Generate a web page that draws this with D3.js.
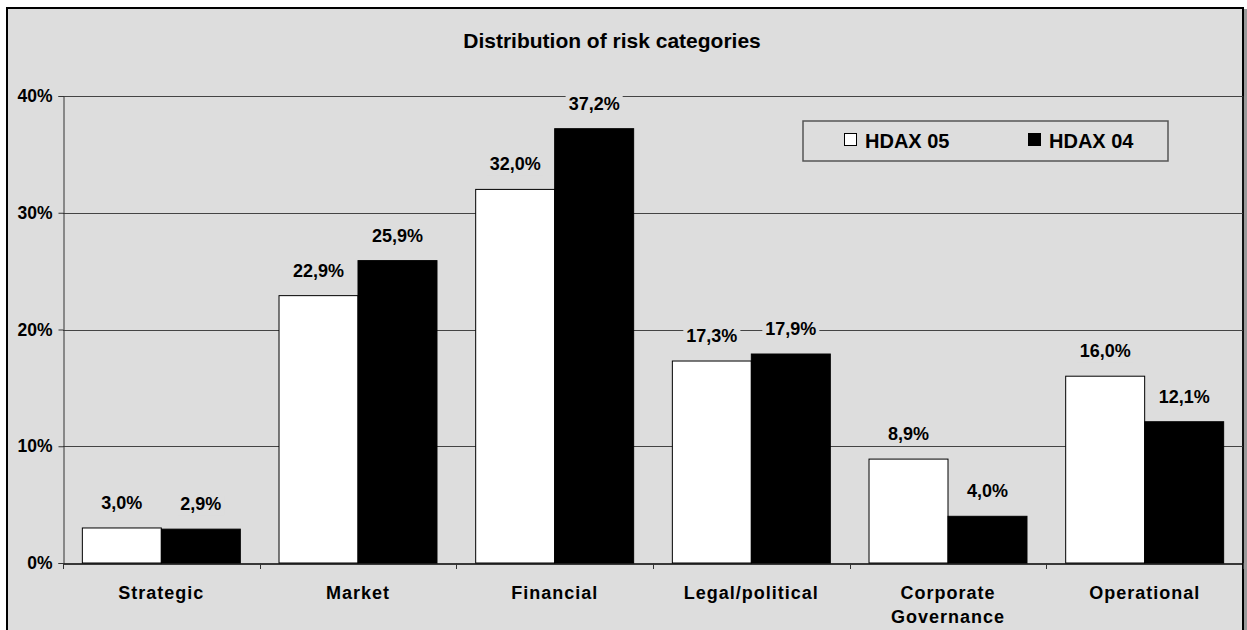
<!DOCTYPE html>
<html>
<head>
<meta charset="utf-8">
<script src="https://cdn.jsdelivr.net/npm/d3@7"></script>
<style>
  html, body { margin: 0; padding: 0; background: #ffffff; }
  svg { display: block; }
  text { font-family: "Liberation Sans", Arial, sans-serif; font-weight: bold; fill: #000; }
</style>
</head>
<body>
<svg id="chart" width="1247" height="630"></svg>
<script>
const title = "Distribution of risk categories";
const categories = ["Strategic", "Market", "Financial", "Legal/political", "Corporate Governance", "Operational"];
const categoryLines = [["Strategic"], ["Market"], ["Financial"], ["Legal/political"], ["Corporate", "Governance"], ["Operational"]];
const seriesNames = ["HDAX 05", "HDAX 04"];
const hdax05 = [3.0, 22.9, 32.0, 17.3, 8.9, 16.0];
const hdax04 = [2.9, 25.9, 37.2, 17.9, 4.0, 12.1];
const yTicks = [0, 10, 20, 30, 40];
const seriesColors = ["#ffffff", "#000000"];

(function () {
const bg = "#dddddd";
const svg = d3.select("#chart");

// outer chart area
svg.append("rect").attr("x", 1243.5).attr("y", 9).attr("width", 4).attr("height", 640).attr("fill", "#9a9a9a");
svg.append("rect").attr("x", 7).attr("y", 8).attr("width", 1236).attr("height", 640)
  .attr("fill", bg).attr("stroke", "#000").attr("stroke-width", 2);

const pLeft = 63, pRight = 1243, pTop = 96, pBottom = 563;

const x0 = d3.scaleBand().domain(categories).range([pLeft, pRight]).padding(0);
const x1 = d3.scaleBand().domain(seriesNames).range([0, x0.bandwidth()]).paddingInner(0).paddingOuter(0.245);
const y = d3.scaleLinear().domain([0, 40]).range([pBottom, pTop]);

// gridlines
svg.append("g").selectAll("line").data(yTicks.filter(d => d > 0)).join("line")
  .attr("x1", pLeft).attr("x2", pRight)
  .attr("y1", d => Math.round(y(d)) + 0.5).attr("y2", d => Math.round(y(d)) + 0.5)
  .attr("stroke", "#444").attr("stroke-width", 1);

// plot right border
svg.append("line").attr("x1", pRight).attr("x2", pRight).attr("y1", pTop).attr("y2", pBottom)
  .attr("stroke", "#222").attr("stroke-width", 1);

// y axis
const yAxis = d3.axisLeft(y).tickValues(yTicks).tickFormat(d => d + "%").tickSize(5).tickPadding(6);
const gy = svg.append("g").attr("transform", `translate(${pLeft + 0.5},0)`).call(yAxis);
gy.select(".domain").attr("stroke", "#333");
gy.selectAll(".tick line").attr("stroke", "#333");
gy.selectAll(".tick text").style("font-size", "17.5px").style("font-family", "'Liberation Sans', Arial, sans-serif").style("font-weight", "bold").attr("fill", "#000");

// bars
const groups = svg.append("g").selectAll("g").data(categories).join("g")
  .attr("transform", d => `translate(${x0(d)},0)`);

const rows = categories.map((c, i) => [
  { series: seriesNames[0], value: hdax05[i], color: seriesColors[0] },
  { series: seriesNames[1], value: hdax04[i], color: seriesColors[1] }
]);

groups.each(function (c, i) {
  const g = d3.select(this);
  g.selectAll("rect").data(rows[i]).join("rect")
    .attr("x", d => x1(d.series))
    .attr("y", d => y(d.value))
    .attr("width", x1.bandwidth())
    .attr("height", d => y(0) - y(d.value))
    .attr("fill", d => d.color)
    .attr("stroke", "#000").attr("stroke-width", 1);
});

// value labels with background
groups.each(function (c, i) {
  const g = d3.select(this);
  rows[i].forEach(d => {
    const cx = x1(d.series) + x1.bandwidth() / 2;
    const by = y(d.value) - 19;
    const t = g.append("text").attr("x", cx).attr("y", by)
      .attr("text-anchor", "middle").style("font-size", "18px")
      .text(d.value.toFixed(1).replace(".", ",") + "%");
    const bb = t.node().getBBox();
    g.insert("rect", function () { return t.node(); })
      .attr("x", bb.x - 3).attr("y", bb.y + 1).attr("width", bb.width + 6).attr("height", bb.height)
      .attr("fill", bg);
  });
});

// zero line + category axis
const xAxis = d3.axisBottom(x0).tickSize(0).tickFormat("");
const gx = svg.append("g").attr("transform", `translate(0,${pBottom + 0.5})`).call(xAxis);
gx.select(".domain").attr("stroke", "#000").attr("stroke-width", 1.5);
const boundaries = categories.map(c => x0(c)).concat([pRight]);
svg.append("g").selectAll("line").data(boundaries).join("line")
  .attr("x1", d => Math.round(d) + 0.5).attr("x2", d => Math.round(d) + 0.5)
  .attr("y1", pBottom).attr("y2", pBottom + 6).attr("stroke", "#333");

// category labels
svg.append("g").selectAll("text").data(categories).join("text")
  .attr("x", d => x0(d) + x0.bandwidth() / 2)
  .attr("y", 599)
  .attr("text-anchor", "middle")
  .style("font-size", "18px").style("letter-spacing", "1px")
  .each(function (d, i) {
    const t = d3.select(this);
    categoryLines[i].forEach((line, j) => {
      t.append("tspan").attr("x", x0(d) + x0.bandwidth() / 2).attr("dy", j === 0 ? 0 : 24).text(line);
    });
  });

// title
svg.append("text").attr("x", 612).attr("y", 48).attr("text-anchor", "middle")
  .style("font-size", "21px").text(title);

// legend
const lg = svg.append("g");
lg.append("rect").attr("x", 803).attr("y", 121).attr("width", 365).attr("height", 40)
  .attr("fill", bg).attr("stroke", "#555").attr("stroke-width", 1.5);
const legendX = [844, 1028];
seriesNames.forEach((s, i) => {
  lg.append("rect").attr("x", legendX[i] + 0.5).attr("y", 133.5).attr("width", 12).attr("height", 12)
    .attr("fill", seriesColors[i]).attr("stroke", "#000").attr("stroke-width", 1);
  lg.append("text").attr("x", legendX[i] + 21).attr("y", 147.5).style("font-size", "20px").text(s);
});
})();
</script>
</body>
</html>
